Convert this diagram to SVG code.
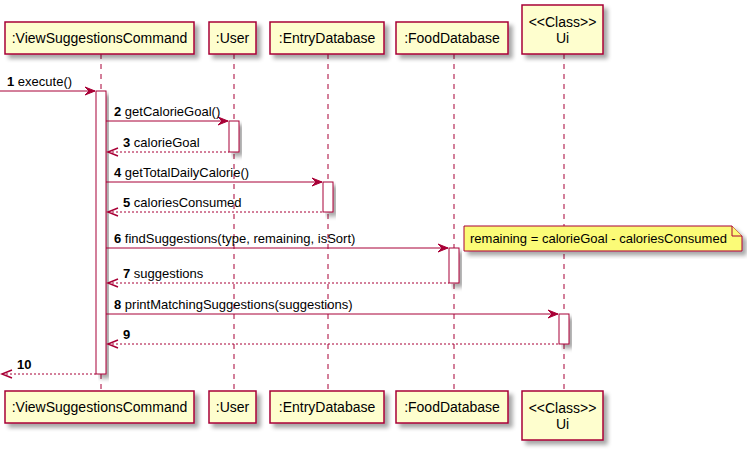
<svg xmlns="http://www.w3.org/2000/svg" width="747" height="453" viewBox="0 0 747 453">
<style>
.p{fill:#FEFECE;stroke:#A80036;stroke-width:1.5}
.pt{font-family:"Liberation Sans",Arial,sans-serif;font-size:14px;fill:#000}
.ll{stroke:#A80036;stroke-width:1;stroke-dasharray:5,5;fill:none}
.act{fill:#FFFFFF;stroke:#A80036;stroke-width:1}
.m{stroke:#A80036;stroke-width:1;fill:none}
.r{stroke:#A80036;stroke-width:1;fill:none;stroke-dasharray:2,2}
.ah{fill:#A80036;stroke:#A80036;stroke-width:1}
.oh{fill:none;stroke:#A80036;stroke-width:1.5}
.mt{font-family:"Liberation Sans",Arial,sans-serif;font-size:13px;fill:#000}
.n{font-weight:bold}
.note{fill:#FBFB77;stroke:#A80036;stroke-width:1}
</style>
<defs>
<filter id="sh" x="-20%" y="-20%" width="150%" height="150%">
<feGaussianBlur in="SourceAlpha" stdDeviation="2"/>
<feOffset dx="4" dy="4" result="b"/>
<feComponentTransfer><feFuncA type="linear" slope="0.35"/></feComponentTransfer>
<feMerge><feMergeNode/><feMergeNode in="SourceGraphic"/></feMerge>
</filter>
</defs>
<rect width="747" height="453" fill="#FFFFFF"/>
<g id="lifelines">
<line class="ll" x1="101" y1="54" x2="101" y2="391"/>
<line class="ll" x1="234" y1="54" x2="234" y2="391"/>
<line class="ll" x1="328" y1="54" x2="328" y2="391"/>
<line class="ll" x1="454" y1="54" x2="454" y2="391"/>
<line class="ll" x1="564" y1="54" x2="564" y2="391"/>
</g>
<g id="p-vsc">
<rect class="p" x="5" y="22" width="189" height="32" filter="url(#sh)"/>
<text class="pt" x="99.5" y="43" text-anchor="middle">:ViewSuggestionsCommand</text>
<rect class="p" x="5" y="391" width="189" height="32" filter="url(#sh)"/>
<text class="pt" x="99.5" y="412" text-anchor="middle">:ViewSuggestionsCommand</text>
</g>
<g id="p-user">
<rect class="p" x="209" y="22" width="47" height="32" filter="url(#sh)"/>
<text class="pt" x="232.5" y="43" text-anchor="middle">:User</text>
<rect class="p" x="209" y="391" width="47" height="32" filter="url(#sh)"/>
<text class="pt" x="232.5" y="412" text-anchor="middle">:User</text>
</g>
<g id="p-entry">
<rect class="p" x="270" y="22" width="114" height="32" filter="url(#sh)"/>
<text class="pt" x="327" y="43" text-anchor="middle">:EntryDatabase</text>
<rect class="p" x="270" y="391" width="114" height="32" filter="url(#sh)"/>
<text class="pt" x="327" y="412" text-anchor="middle">:EntryDatabase</text>
</g>
<g id="p-food">
<rect class="p" x="396" y="22" width="112" height="32" filter="url(#sh)"/>
<text class="pt" x="452" y="43" text-anchor="middle">:FoodDatabase</text>
<rect class="p" x="396" y="391" width="112" height="32" filter="url(#sh)"/>
<text class="pt" x="452" y="412" text-anchor="middle">:FoodDatabase</text>
</g>
<g id="p-ui">
<rect class="p" x="522" y="5" width="81" height="49" filter="url(#sh)"/>
<text class="pt" x="562.5" y="27" text-anchor="middle">&lt;&lt;Class&gt;&gt;</text>
<text class="pt" x="562.5" y="43" text-anchor="middle">Ui</text>
<rect class="p" x="522" y="391" width="81" height="49" filter="url(#sh)"/>
<text class="pt" x="562.5" y="413" text-anchor="middle">&lt;&lt;Class&gt;&gt;</text>
<text class="pt" x="562.5" y="429" text-anchor="middle">Ui</text>
</g>
<g id="activations">
<rect class="act" x="96" y="91" width="10" height="283" filter="url(#sh)"/>
<rect class="act" x="229" y="121" width="10" height="31" filter="url(#sh)"/>
<rect class="act" x="323" y="182" width="10" height="30" filter="url(#sh)"/>
<rect class="act" x="449" y="248" width="10" height="35" filter="url(#sh)"/>
<rect class="act" x="559" y="314" width="10" height="30" filter="url(#sh)"/>
</g>
<g id="note">
<path class="note" d="M464,226 L732,226 L742,236 L742,251 L464,251 Z" filter="url(#sh)"/>
<path class="note" d="M732,226 L732,236 L742,236"/>
<text class="mt" x="470" y="243">remaining = calorieGoal - caloriesConsumed</text>
</g>
<g id="connectors">
<line class="m" x1="0" y1="91" x2="95" y2="91"/>
<polygon class="ah" points="85,87 95,91 85,95 89,91"/>
<text class="mt" x="7" y="86"><tspan class="n">1</tspan> execute()</text>

<line class="m" x1="106" y1="121" x2="228" y2="121"/>
<polygon class="ah" points="218,117 228,121 218,125 222,121"/>
<text class="mt" x="114" y="116"><tspan class="n">2</tspan> getCalorieGoal()</text>

<line class="r" x1="108" y1="152" x2="229" y2="152"/>
<polyline class="oh" points="118,148 108,152 118,156"/>
<text class="mt" x="123" y="147"><tspan class="n">3</tspan> calorieGoal</text>

<line class="m" x1="106" y1="182" x2="322" y2="182"/>
<polygon class="ah" points="312,178 322,182 312,186 316,182"/>
<text class="mt" x="114" y="177"><tspan class="n">4</tspan> getTotalDailyCalorie()</text>

<line class="r" x1="108" y1="212" x2="323" y2="212"/>
<polyline class="oh" points="118,208 108,212 118,216"/>
<text class="mt" x="123" y="207"><tspan class="n">5</tspan> caloriesConsumed</text>

<line class="m" x1="106" y1="248" x2="448" y2="248"/>
<polygon class="ah" points="438,244 448,248 438,252 442,248"/>
<text class="mt" x="114" y="243"><tspan class="n">6</tspan> findSuggestions(type, remaining, isSort)</text>

<line class="r" x1="108" y1="283" x2="449" y2="283"/>
<polyline class="oh" points="118,279 108,283 118,287"/>
<text class="mt" x="123" y="278"><tspan class="n">7</tspan> suggestions</text>

<line class="m" x1="106" y1="314" x2="558" y2="314"/>
<polygon class="ah" points="548,310 558,314 548,318 552,314"/>
<text class="mt" x="114" y="309"><tspan class="n">8</tspan> printMatchingSuggestions(suggestions)</text>

<line class="r" x1="108" y1="344" x2="559" y2="344"/>
<polyline class="oh" points="118,340 108,344 118,348"/>
<text class="mt n" x="123" y="339">9</text>

<line class="r" x1="2" y1="374" x2="96" y2="374"/>
<polyline class="oh" points="12,370 2,374 12,378"/>
<text class="mt n" x="17" y="369">10</text>
</g>
</svg>
